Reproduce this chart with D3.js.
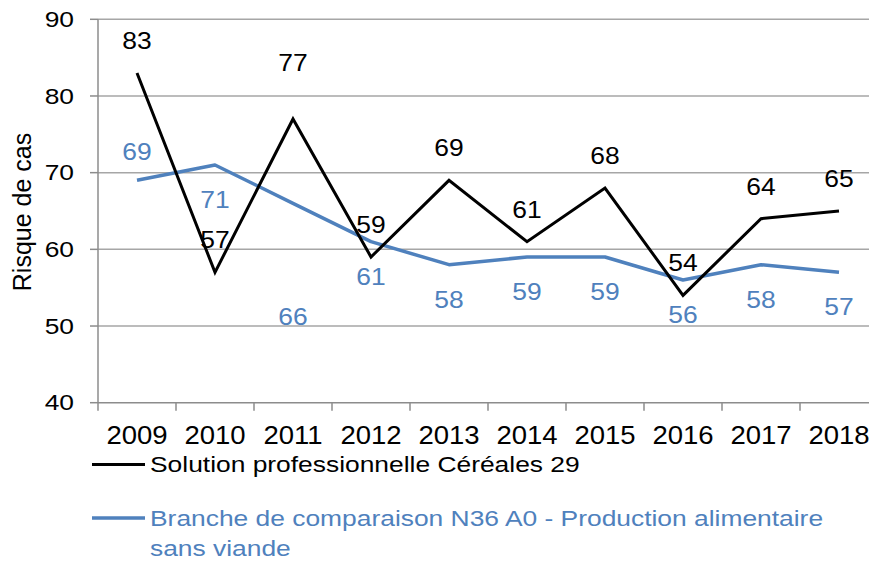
<!DOCTYPE html>
<html>
<head>
<meta charset="utf-8">
<style>
  body { margin: 0; background: #fff; font-family: "Liberation Sans", Arial, sans-serif; }
  .grid line { stroke: #a6a6a6; stroke-width: 1.5px; }
  .axis path, .axis line { stroke: #8c8c8c; stroke-width: 1.5px; }
  .axis text { fill: #000; }
</style>
</head>
<body>
<script src="https://cdn.jsdelivr.net/npm/d3@7"></script>
<script>
var years = ["2009", "2010", "2011", "2012", "2013", "2014", "2015", "2016", "2017", "2018"];
var solution = [83, 57, 77, 59, 69, 61, 68, 54, 64, 65];
var branche = [69, 71, 66, 61, 58, 59, 59, 56, 58, 57];
var yTicks = [40, 50, 60, 70, 80, 90];
var seriesNames = ["Solution professionnelle Céréales 29",
                   "Branche de comparaison N36 A0 - Production alimentaire", "sans viande"];

var width = 869, height = 562;
var black = "#000", blue = "#4f81bd";

var svg = d3.select("body").append("svg")
    .attr("width", width)
    .attr("height", height);

var x = d3.scaleBand().domain(years).range([98, 878]);
var y = d3.scaleLinear().domain([40, 90]).range([402.7, 19.3]);

// the source picture is a bit wider than tall, so text gets a horizontal stretch
function stretched(g, px, py, sx, size) {
  return g.append("text")
    .attr("transform", function(d, i){
      return "translate(" + px(d, i) + "," + py(d, i) + ") scale(" + sx + ",1)";
    })
    .style("font-size", size + "px");
}

// gridlines
svg.append("g").attr("class", "grid")
  .selectAll("line").data(yTicks.slice(1)).enter().append("line")
    .attr("x1", 98).attr("x2", width)
    .attr("y1", function(d){ return y(d); })
    .attr("y2", function(d){ return y(d); });

// y axis
var yAxis = svg.append("g").attr("class", "axis");
yAxis.append("line").attr("x1", 98).attr("x2", 98).attr("y1", y(90)).attr("y2", y(40));
yAxis.selectAll(".tk").data(yTicks).enter().append("line")
    .attr("x1", 90).attr("x2", 98)
    .attr("y1", function(d){ return y(d); }).attr("y2", function(d){ return y(d); });
stretched(yAxis.selectAll(".yl").data(yTicks).enter(),
    function(){ return 74; }, function(d){ return y(d); }, 1.2, 22)
    .attr("text-anchor", "end")
    .attr("dy", "0.35em")
    .text(function(d){ return d; });

// x axis, ticks between categories
var xAxis = svg.append("g").attr("class", "axis")
    .attr("transform", "translate(0," + y(40) + ")");
xAxis.append("line").attr("x1", 98).attr("x2", width).attr("y1", 0).attr("y2", 0);
xAxis.selectAll(".tk").data(years).enter().append("line")
    .attr("class", "tk")
    .attr("x1", function(d){ return x(d); }).attr("x2", function(d){ return x(d); })
    .attr("y1", 0).attr("y2", 8);
stretched(xAxis.selectAll(".xl").data(years).enter(),
    function(d){ return x(d) + x.bandwidth() / 2; }, function(){ return 41; }, 1.1, 25)
    .attr("text-anchor", "middle")
    .text(function(d){ return d; });

// axis title
svg.append("text")
    .attr("transform", "translate(31,212) rotate(-90)")
    .attr("text-anchor", "middle")
    .style("font-size", "25px")
    .text("Risque de cas");

var cx = function(d, i){ return x(years[i]) + x.bandwidth() / 2; };
var line = d3.line().x(cx).y(function(d){ return y(d); });

svg.append("path").datum(branche)
    .attr("d", line).attr("fill", "none")
    .attr("stroke", blue).attr("stroke-width", 3.5).attr("stroke-linejoin", "round");
svg.append("path").datum(solution)
    .attr("d", line).attr("fill", "none")
    .attr("stroke", black).attr("stroke-width", 3).attr("stroke-linejoin", "miter");

// data labels (offsets mimic excel placement)
var solDy = function(d, i){ return i == 2 ? -56 : -32; };
var brDy = function(d, i){ return i == 0 ? -28 : (i == 2 ? 114 : 35); };

stretched(svg.append("g").selectAll("text").data(solution).enter(),
    cx, function(d, i){ return y(d) + solDy(d, i); }, 1.15, 23)
    .attr("dy", "0.35em")
    .attr("text-anchor", "middle")
    .attr("fill", black)
    .text(function(d){ return d; });

stretched(svg.append("g").selectAll("text").data(branche).enter(),
    cx, function(d, i){ return y(d) + brDy(d, i); }, 1.15, 23)
    .attr("dy", "0.35em")
    .attr("text-anchor", "middle")
    .attr("fill", blue)
    .text(function(d){ return d; });

// legend
var legend = svg.append("g");
var legendRows = [
  {name: seriesNames[0], color: black, w: 3, ly: 464.5, ty: 472},
  {name: seriesNames[1], color: blue, w: 3.5, ly: 518, ty: 526},
  {name: seriesNames[2], color: blue, w: 0, ly: 0, ty: 556}
];
legendRows.forEach(function(r){
  if (r.w) legend.append("line").attr("x1", 92).attr("x2", 145)
      .attr("y1", r.ly).attr("y2", r.ly)
      .attr("stroke", r.color).attr("stroke-width", r.w);
  legend.append("text")
      .attr("transform", "translate(150," + r.ty + ") scale(1.2,1)")
      .style("font-size", "22px")
      .attr("fill", r.color)
      .text(r.name);
});
</script>
</body>
</html>
